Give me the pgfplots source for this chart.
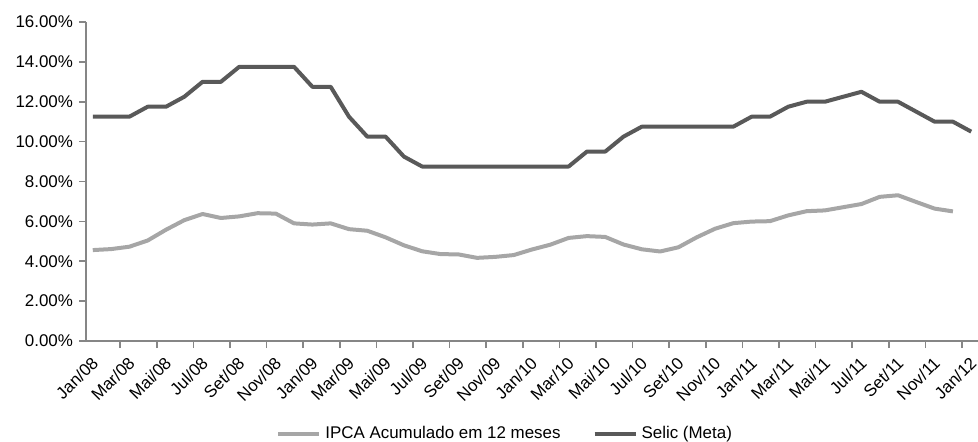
\documentclass[border=0pt]{standalone}
\usepackage{pgfplots}
\pgfplotsset{compat=1.18}
\usepackage{fontspec}
\setmainfont{Liberation Sans}

\definecolor{selic}{HTML}{595959}
\definecolor{ipca}{HTML}{A6A6A6}
\definecolor{eixo}{HTML}{868686}

\begin{document}
\fontsize{8.5}{10}\selectfont
\begin{tikzpicture}
\path[use as bounding box] (-43bp,-50.5bp) rectangle (446bp,170.5bp);
\begin{axis}[
    scale only axis,
    width=446bp, height=159.5bp,
    xmin=-0.37, xmax=48.37,
    ymin=0, ymax=16,
    axis lines*=left,
    axis line style={eixo, line width=0.8bp},
    /pgf/number format/assume math mode=true,
    tick style={eixo, line width=0.8bp},
    tick align=outside,
    major tick length=3.5bp,
    % marcas do eixo x entre categorias
    xtick={1.5,3.5,...,47.5},
    xticklabels={},
    extra x ticks={0,2,...,48},
    extra x tick labels={Jan/08,Mar/08,Mai/08,Jul/08,Set/08,Nov/08,
        Jan/09,Mar/09,Mai/09,Jul/09,Set/09,Nov/09,
        Jan/10,Mar/10,Mai/10,Jul/10,Set/10,Nov/10,
        Jan/11,Mar/11,Mai/11,Jul/11,Set/11,Nov/11,Jan/12},
    extra x tick style={major tick length=0pt,
        xticklabel style={xshift=1.2bp, yshift=-9.5bp, rotate=45,
            anchor=east, inner sep=0bp,
            font=\fontsize{8.5}{10}\selectfont}},
    ytick={0,2,...,16},
    yticklabel={\pgfmathprintnumber[fixed,fixed zerofill,precision=2]{\tick}\%},
    yticklabel style={font=\fontsize{8.5}{10}\selectfont},
    legend style={at={(0.471,-0.2915)}, anchor=center, draw=none,
        font=\fontsize{8.5}{10}\selectfont,
        /tikz/every even column/.append style={column sep=14bp}},
    legend columns=2,
    legend image code/.code={\draw[#1] (0bp,0bp) -- (20.5bp,0bp);},
]

% IPCA acumulado em 12 meses (jan/08 a dez/11)
\addplot[ipca, line width=2bp, line join=round] coordinates {
(0,4.56) (1,4.61) (2,4.73) (3,5.04) (4,5.58) (5,6.06) (6,6.37) (7,6.17)
(8,6.25) (9,6.41) (10,6.39) (11,5.90)
(12,5.84) (13,5.90) (14,5.61) (15,5.53) (16,5.20) (17,4.80) (18,4.50)
(19,4.36) (20,4.34) (21,4.17) (22,4.22) (23,4.31)
(24,4.59) (25,4.83) (26,5.17) (27,5.26) (28,5.22) (29,4.84) (30,4.60)
(31,4.49) (32,4.70) (33,5.20) (34,5.63) (35,5.91)
(36,5.99) (37,6.01) (38,6.30) (39,6.51) (40,6.55) (41,6.71) (42,6.87)
(43,7.23) (44,7.31) (45,6.97) (46,6.64) (47,6.50)
};
\addlegendentry{IPCA Acumulado em 12 meses}

% Selic meta (jan/08 a jan/12)
\addplot[selic, line width=2bp, line join=round] coordinates {
(0,11.25) (1,11.25) (2,11.25) (3,11.75) (4,11.75) (5,12.25) (6,13.00)
(7,13.00) (8,13.75) (9,13.75) (10,13.75) (11,13.75)
(12,12.75) (13,12.75) (14,11.25) (15,10.25) (16,10.25) (17,9.25) (18,8.75)
(19,8.75) (20,8.75) (21,8.75) (22,8.75) (23,8.75)
(24,8.75) (25,8.75) (26,8.75) (27,9.50) (28,9.50) (29,10.25) (30,10.75)
(31,10.75) (32,10.75) (33,10.75) (34,10.75) (35,10.75)
(36,11.25) (37,11.25) (38,11.75) (39,12.00) (40,12.00) (41,12.25) (42,12.50)
(43,12.00) (44,12.00) (45,11.50) (46,11.00) (47,11.00) (48,10.50)
};
\addlegendentry{Selic (Meta)}

\end{axis}
\end{tikzpicture}
\end{document}
